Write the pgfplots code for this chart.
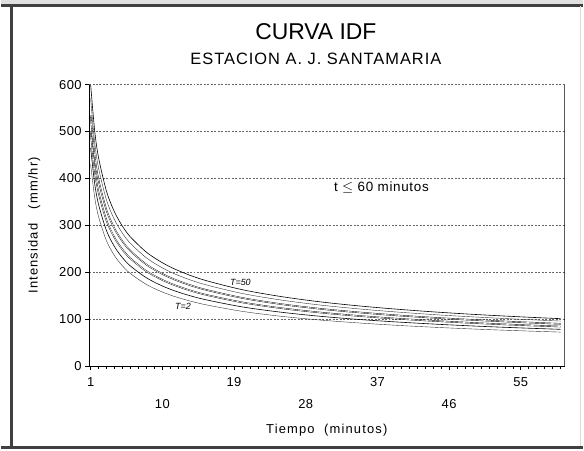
\documentclass[border=0pt]{standalone}
\usepackage{pgfplots}
\pgfplotsset{compat=1.18}
\usepackage{pgfplotstable}
\usepackage{fontspec}
\setmainfont{Liberation Sans}
\pgfplotstableread{
t    T2    T3    T5    T10   T25   T50
1    430   465   500   535   570   600
1.5  360.5 389.8 419.2 448.5 477.8 503.0
2    318.1 344.0 369.9 395.7 421.6 443.8
3    266.6 288.3 310.1 331.8 353.5 372.1
4    235.3 254.4 273.6 292.8 311.9 328.3
5    213.5 230.9 248.3 265.7 283.1 298.0
6    197.2 213.3 229.4 245.4 261.5 275.2
8    174.0 188.2 202.4 216.5 230.7 242.8
10   157.9 170.8 183.7 196.5 209.4 220.4
12   145.9 157.8 169.7 181.5 193.4 203.6
15   132.4 143.2 154.0 164.7 175.5 184.7
20   116.8 126.3 135.9 145.4 154.9 163.0
25   106.0 114.7 123.3 131.9 140.6 148.0
30   97.9  105.9 113.9 121.8 129.8 136.6
35   91.6  99.0  106.5 114.0 121.4 127.8
40   86.4  93.5  100.5 107.5 114.6 120.6
45   82.1  88.8  95.5  102.1 108.8 114.5
50   78.4  84.8  91.2  97.6  104.0 109.4
55   75.3  81.4  87.5  93.6  99.8  105.0
60   72.5  78.4  84.3  90.1  96.0  101.1
}\idf
\newcommand\ls[2]{\fontsize{#1}{#1}\selectfont\addfontfeature{LetterSpace=#2}}
\begin{document}
\begin{tikzpicture}[x=1pt,y=1pt]
% canvas 584 x 451 px
\fill[white] (0,0) rectangle (584,451);
\fill[black!12] (0,447) rectangle (584,451);
\draw[black!75, line width=3pt] (0,445.5) -- (584,445.5);
\draw[black!75, line width=3pt] (10.5,447) -- (10.5,0);
\draw[black!75, line width=3pt] (0,1.5) -- (584,1.5);
\draw[black!15, line width=1pt] (582,445) -- (582,3);
\node[font=\ls{23}{0}] at (316,419) {CURVA IDF};
\node[font=\ls{16.5}{6}] at (316,392) {ESTACION A. J. SANTAMARIA};
\begin{axis}[
  at={(88pt,83pt)}, anchor=south west,
  scale only axis, width=478pt, height=283pt,
  xmin=0.8, xmax=60.5, ymin=0, ymax=600,
  axis x line*=bottom, axis y line*=left,
  axis line style={black, line width=0.8pt},
  xtick={1,19,37,55},
  minor xtick={2,...,60},
  extra x ticks={10,28,46},
  extra x tick style={tick label style={yshift=-22pt}},
  ytick={0,100,...,600},
  tick align=outside,
  major tick length=4pt, minor tick length=3pt,
  every tick/.style={black, line width=0.6pt},
  ymajorgrids,
  major grid style={black!60, line width=0.7pt, dash pattern=on 2pt off 1.5pt},
  /pgf/number format/assume math mode=true,
  tick label style={font=\ls{13}{3}},
  x tick label style={yshift=-4pt},
  xlabel={Tiempo~~(minutos)},
  ylabel={Intensidad~~~(mm/hr)},
  label style={font=\ls{13}{9}},
  xlabel style={yshift=-5pt},
  ylabel style={yshift=12pt},
  cycle list={{draw=black!80, line width=0.6pt, double=white, double distance=0.6pt}},
  every axis plot/.append style={smooth, no marks},
  clip=true,
]
\addplot table[x=t,y=T2]{\idf};
\addplot table[x=t,y=T3]{\idf};
\addplot table[x=t,y=T5]{\idf};
\addplot table[x=t,y=T10]{\idf};
\addplot table[x=t,y=T25]{\idf};
\addplot table[x=t,y=T50]{\idf};
\draw[black, line width=0.8pt] (rel axis cs:1,0) -- (rel axis cs:1,1);
\node[font=\fontsize{9}{9}\selectfont\itshape] at (axis cs:19.8,178) {T=50};
\node[font=\fontsize{9}{9}\selectfont\itshape] at (axis cs:12.6,127) {T=2};
\node[font=\ls{13.5}{5}] at (axis cs:37.5,380) {t $\leq$ 60 minutos};
\end{axis}
\end{tikzpicture}
\end{document}
